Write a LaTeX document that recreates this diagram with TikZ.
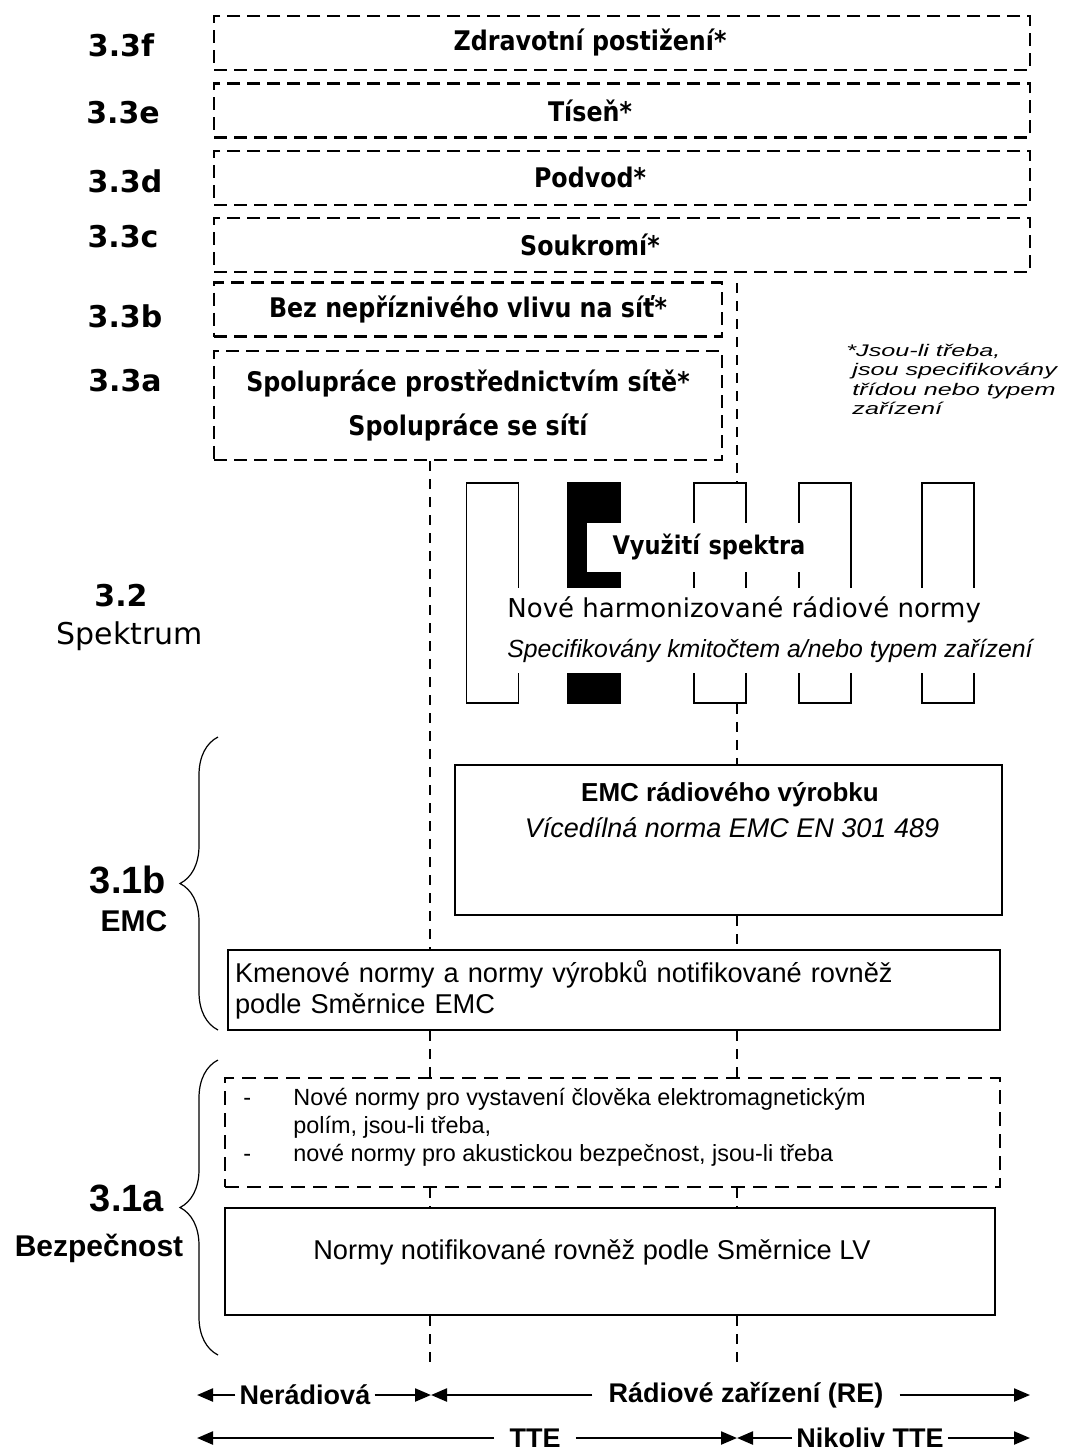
\documentclass[tikz,border=0pt]{standalone}
\usepackage{fontspec}
\setmainfont{Liberation Sans}
\newfontfamily\dejavu{DejaVu Sans}
\newfontfamily\dejavunarrow[FakeStretch=0.88]{DejaVu Sans}
\newfontfamily\widesans[FakeStretch=1.5]{Liberation Sans}
\usetikzlibrary{arrows.meta, positioning, calc, decorations.pathreplacing}
\tikzset{
	layerbox/.style={rectangle, draw=black, dash pattern=on 6.5pt off 3.5pt, line width=1.2pt, fill=white, inner sep=0pt, minimum width=408pt, minimum height=27pt},
	netbox/.style={layerbox, minimum width=254pt, align=center, font=\dejavunarrow\bfseries\fontsize{13.5}{15.5}\selectfont},
	layertitle/.style={inner sep=0pt, font=\dejavunarrow\bfseries\fontsize{13.5}{15.5}\selectfont},
	safebox/.style={rectangle, draw=black, dash pattern=on 7pt off 4pt, line width=1.2pt, fill=white, inner sep=0pt},
	plainbox/.style={rectangle, draw=black, line width=1.1pt, fill=white, inner sep=0pt},
	band/.style={rectangle, draw=black, line width=0.9pt, fill=white, inner sep=0pt, minimum width=26pt, minimum height=110pt},
	bandmask/.style={rectangle, fill=white, inner sep=0pt},
	bandlabel/.style={inner sep=0pt, font=\dejavu\fontsize{13}{15.6}\selectfont},
	guide/.style={dash pattern=on 5pt off 4pt, line width=0.75pt},
	sectlabel/.style={font=\dejavu\bfseries\fontsize{15}{18}\selectfont},
	sectname/.style={font=\dejavu\fontsize{15}{18}\selectfont},
	sidelabel/.style={font=\bfseries\fontsize{19}{22}\selectfont},
	sidename/.style={font=\bfseries\fontsize{15}{18}\selectfont},
	bodytext/.style={font=\fontsize{13.6}{15.5}\selectfont},
	listtext/.style={inner sep=0pt, align=left, font=\fontsize{11.7}{14}\selectfont},
	notetext/.style={inner sep=0pt, align=left, font=\widesans\itshape\fontsize{8.4}{9.6}\selectfont},
	scopetext/.style={inner xsep=2pt, inner ysep=1pt, font=\bfseries\fontsize{13.5}{16}\selectfont},
	dimarrow/.style={-{Triangle[length=8pt, width=6.5pt]}, line width=1.1pt},
	sidebrace/.style={decorate, decoration={brace, amplitude=19pt}, line width=0.6pt},
}
\begin{document}
\begin{tikzpicture}[x=0.5pt, y=-0.5pt]
	\useasboundingbox (0,0) rectangle (1066,1456);
	% 3.3 layers
	\node[layerbox] (health) at (622,43) {};
	\node[layerbox, below=5.5pt of health] (distress) {};
	\node[layerbox, below=5.5pt of distress] (fraud) {};
	\node[layerbox, below=5.5pt of fraud] (privacy) {};
	\node[layertitle] (healthtxt) at ([xshift=-16pt]health.center) {Zdravotní postižení*};
	\node[layertitle] (distresstxt) at ([xshift=-16pt]distress.center) {Tíseň*};
	\node[layertitle] (fraudtxt) at ([xshift=-16pt]fraud.center) {Podvod*};
	\node[layertitle] (privacytxt) at ([xshift=-16pt]privacy.center) {Soukromí*};
	\node[netbox] (noharm) at (468,309.5) {Bez nepříznivého vlivu na síť*};
	\node[netbox, below=6pt of noharm, minimum height=54.5pt] (interwork) {Spolupráce prostřednictvím sítě*\\[6.5pt]Spolupráce se sítí};
	\node[sectlabel] (l33f) at (121,45) {3.3f};
	\node[sectlabel] (l33e) at (123,113) {3.3e};
	\node[sectlabel] (l33d) at (125,181) {3.3d};
	\node[sectlabel] (l33c) at (123,237) {3.3c};
	\node[sectlabel] (l33b) at (125,316) {3.3b};
	\node[sectlabel] (l33a) at (125,381) {3.3a};
	\node[notetext, anchor=north west] (note) at (846,344) {*Jsou-li třeba,\\\hspace*{3pt}jsou specifikovány\\\hspace*{3pt}třídou nebo typem\\\hspace*{3pt}zařízení};
	% 3.2 spectrum
	\node[sectlabel] (l32) at (121,596) {3.2};
	\node[sectname] (lspec) at (130,636) {Spektrum};
	\node[band] (band1) at (492.5,593) {};
	\node[band, fill=black] (band2) at (594,593) {};
	\node[band] (band3) at (720,593) {};
	\node[band] (band4) at (825,593) {};
	\node[band] (band5) at (948,593) {};
	\node[bandmask, anchor=west, minimum height=24.5pt, text width=109pt, align=right, font=\dejavunarrow\bfseries\fontsize{12.8}{15}\selectfont] (usage) at (587,547.5) {Využití spektra};
	\node[bandmask, anchor=west, minimum width=265.5pt, minimum height=42.5pt] (radiomask) at (505,630.5) {};
	\node[bandlabel, anchor=west] (radionorms) at (507,610) {Nové harmonizované rádiové normy};
	\node[anchor=west, inner sep=0pt, font=\itshape\fontsize{12.4}{14}\selectfont] (radiospec) at (507,651) {Specifikovány kmitočtem a/nebo typem zařízení};
	% 3.1b EMC
	\node[plainbox, minimum width=273.5pt, minimum height=75pt] (emcrad) at (728.5,840) {};
	\node[font=\bfseries\fontsize{13}{15}\selectfont] (emcradtitle) at (730,795) {EMC rádiového výrobku};
	\node[font=\itshape\fontsize{13.5}{16}\selectfont] (emcradnorm) at (732,828) {Vícedílná norma EMC EN 301 489};
	\node[plainbox, bodytext, minimum width=386pt, minimum height=40pt, text width=379pt, inner xsep=3.5pt, align=left] (generic) at (614,990) {Kmenové normy a normy výrobků notifikované rovněž\\podle Směrnice EMC};
	\coordinate (emctop) at (218,737);
	\coordinate (emcbot) at (218,1030);
	\draw[sidebrace] (emcbot) -- (emctop);
	\node[sidelabel, anchor=east] (l31b) at (173,880) {3.1b};
	\node[sidename] (lemc) at (134,921) {EMC};
	% 3.1a safety
	\node[safebox, minimum width=387.5pt, minimum height=54.5pt] (exposure) at (612.5,1132.5) {};
	\node[listtext, anchor=west] (exposuretxt) at (243,1127) {\makebox[25pt][l]{-}Nové normy pro vystavení člověka elektromagnetickým\\\hspace*{25pt}polím, jsou-li třeba,\\\makebox[25pt][l]{-}nové normy pro akustickou bezpečnost, jsou-li třeba};
	\node[plainbox, minimum width=385pt, minimum height=53.5pt] (lvbox) at (610,1261.5) {};
	\node[bodytext] (lvtxt) at (592,1252) {Normy notifikované rovněž podle Směrnice LV};
	\coordinate (safetop) at (218,1060);
	\coordinate (safebot) at (218,1355);
	\draw[sidebrace] (safebot) -- (safetop);
	\node[sidelabel, anchor=east] (l31a) at (171,1198) {3.1a};
	\node[sidename] (lsafety) at (99,1248) {Bezpečnost};
	% guide lines
	\coordinate (nrx) at (430,0);
	\coordinate (rex) at (737,0);
	\coordinate (retop) at (737,283);
	\coordinate (nrend) at (430,1370);
	\coordinate (reend) at (737,1370);
	\draw[guide] (interwork.south -| nrx) -- (generic.north -| nrx);
	\draw[guide] (generic.south -| nrx) -- (exposure.north -| nrx);
	\draw[guide] (exposure.south -| nrx) -- (lvbox.north -| nrx);
	\draw[guide] (lvbox.south -| nrx) -- (nrend);
	\draw[guide] (retop) -- (band3.north -| rex);
	\draw[guide] (band3.south -| rex) -- (emcrad.north -| rex);
	\draw[guide] (emcrad.south -| rex) -- (generic.north -| rex);
	\draw[guide] (generic.south -| rex) -- (exposure.north -| rex);
	\draw[guide] (exposure.south -| rex) -- (lvbox.north -| rex);
	\draw[guide] (lvbox.south -| rex) -- (reend);
	% scope arrows
	\coordinate (row1l) at (197,1395);
	\coordinate (row1m) at (431,1395);
	\coordinate (row1r) at (1030,1395);
	\coordinate (row2l) at (197,1438);
	\coordinate (row2m) at (737,1438);
	\coordinate (row2r) at (1030,1438);
	\node[scopetext] (nonradio) at (305,1395) {Nerádiová};
	\node[scopetext, inner xsep=8pt] (radio) at (746,1395) {Rádiové zařízení (RE)};
	\node[scopetext, inner xsep=7.5pt] (tte) at (535,1438) {TTE};
	\node[scopetext] (notte) at (870,1438) {Nikoliv TTE};
	\draw[dimarrow] (nonradio) -- (row1l);
	\draw[dimarrow] (nonradio) -- (row1m);
	\draw[dimarrow] (radio) -- (row1m);
	\draw[dimarrow] (radio) -- (row1r);
	\draw[dimarrow] (tte) -- (row2l);
	\draw[dimarrow] (tte) -- (row2m);
	\draw[dimarrow] (notte) -- (row2m);
	\draw[dimarrow] (notte) -- (row2r);
\end{tikzpicture}
\end{document}
